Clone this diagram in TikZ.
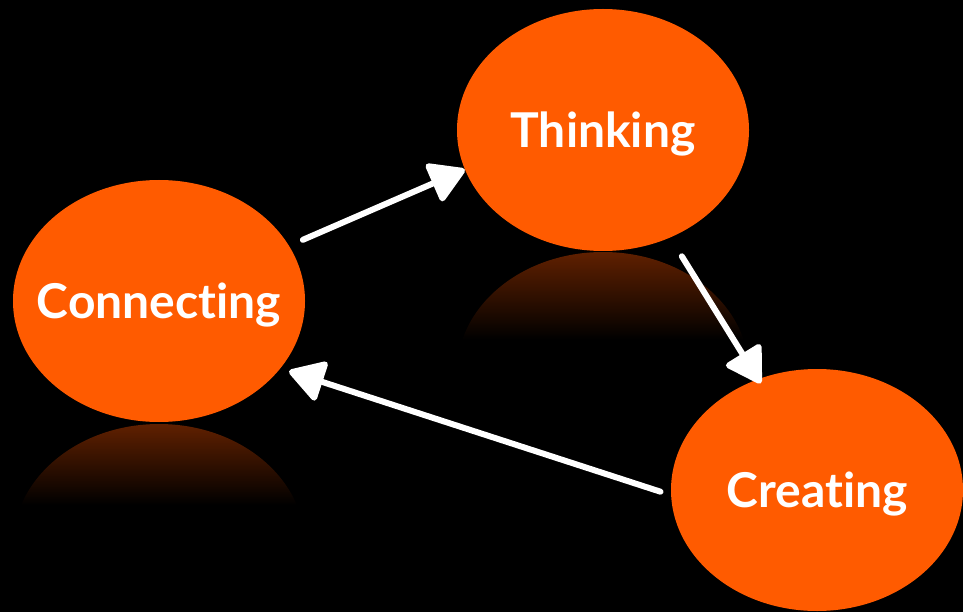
\documentclass[tikz,border=0pt]{standalone}
\usepackage{fontspec}
\setmainfont{Lato}[Ligatures=NoCommon]
\usetikzlibrary{shapes.geometric,arrows.meta}

\definecolor{bubble}{HTML}{FF5B00}
\definecolor{mirror}{RGB}{96,32,0}

\tikzset{
  idea/.style={ellipse,fill=bubble,draw=none,inner xsep=-60pt,inner ysep=0pt,
    minimum width=292pt,minimum height=242pt,text depth=0pt,
    text=white,font=\fontsize{48}{52}\selectfont\bfseries},
  flow/.style={draw=white,line width=6pt,line cap=round,
    -{Triangle[length=38pt,width=44pt,round]}}
}

\begin{document}
\begin{tikzpicture}[x=1pt,y=-1pt]
% black page
\fill[black] (0,0) rectangle (963,612);
\useasboundingbox (0,0) rectangle (963,612);

% faded mirror images under the top two bubbles
\begin{scope}
  \clip (159,545) ellipse[x radius=146pt,y radius=121pt];
  \shade[top color=mirror,bottom color=black] (0,424) rectangle (320,505);
\end{scope}
\begin{scope}
  \clip (603,372) ellipse[x radius=146pt,y radius=120pt];
  \shade[top color=mirror,bottom color=black] (440,252) rectangle (770,340);
\end{scope}

% the three bubbles
\node[idea] (conn) at (159,301) {Connecting};
\node[idea] (think) at (603,130) {Thinking};
\node[idea] (creat) at (817,490) {Creating};

% the cycle
\draw[flow,shorten <=15pt] (conn.23) -- (think.196);
\draw[flow,shorten <=22pt,shorten >=-5pt] (think.-58.6) -- (creat.118.5);
\draw[flow,shorten <=11pt,shorten >=9pt] (creat.182.9) -- (conn.-29.2);

\end{tikzpicture}
\end{document}
